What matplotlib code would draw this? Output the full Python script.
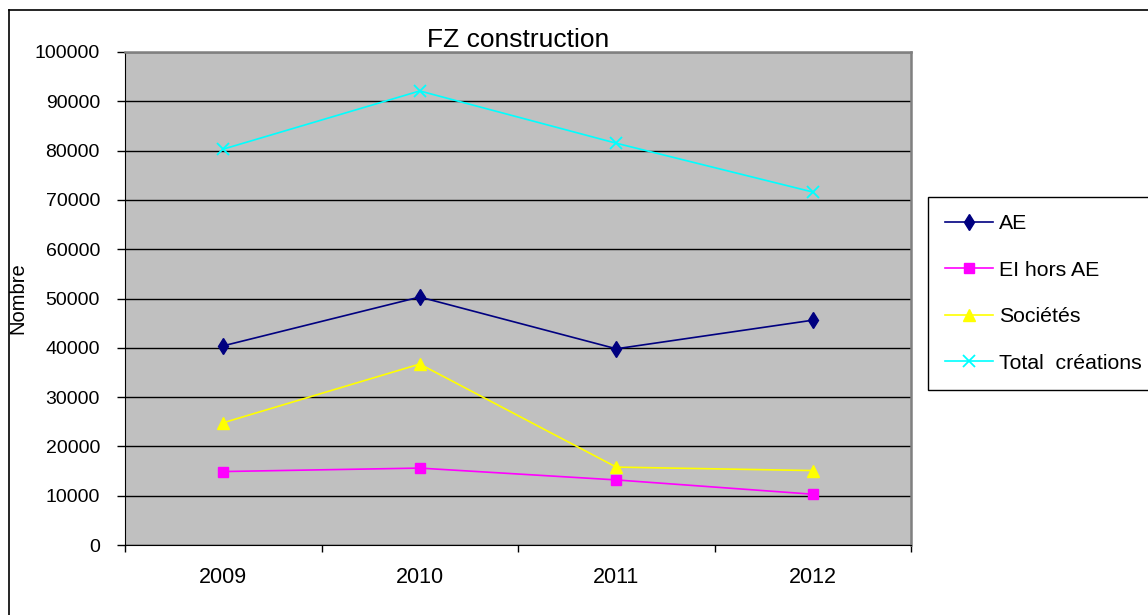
import numpy as np
import matplotlib.pyplot as plt
from matplotlib.lines import Line2D

# DATA
years = ["2009", "2010", "2011", "2012"]

ae = [40400, 50300, 39800, 45600]
ei_hors_ae = [14900, 15600, 13200, 10300]
societes = [24800, 36700, 15800, 15100]
total_creations = [80300, 92100, 81500, 71600]

series_labels = ["AE", "EI hors AE", "Sociétés", "Total  créations"]

plt.rcParams["font.family"] = ["Liberation Sans", "DejaVu Sans"]

W, H = 1148, 615
fig = plt.figure(figsize=(W / 100, H / 100), dpi=100)
fig.patch.set_facecolor("white")

# plot area in pixels: x 125..911, y 52..545
ax = fig.add_axes([125 / W, 1 - 545 / H, (911 - 125) / W, (545 - 52) / H])
ax.set_facecolor("#C0C0C0")

x = np.arange(len(years))

ax.plot(x, ae, color="#000080", marker="d", markersize=8,
        linewidth=1.2, label=series_labels[0])
ax.plot(x, ei_hors_ae, color="#FF00FF", marker="s", markersize=6.5,
        linewidth=1.2, label=series_labels[1])
ax.plot(x, societes, color="#FFFF00", marker="^", markersize=8,
        linewidth=1.2, label=series_labels[2])
ax.plot(x, total_creations, color="#00FFFF", marker="x", markersize=8,
        markeredgewidth=1.3, linewidth=1.2, label=series_labels[3])

ax.set_xlim(-0.5, len(years) - 0.5)
ax.set_ylim(0, 100000)
ax.set_yticks(np.arange(0, 100001, 10000))
ax.yaxis.grid(True, color="black", linewidth=1.0)
ax.set_axisbelow(True)

# x ticks at category boundaries, labels at centres
ax.set_xticks(np.arange(-0.5, len(years), 1.0))
ax.set_xticklabels([])
ax.set_xticks(x, minor=True)
ax.set_xticklabels(years, minor=True)
ax.tick_params(axis="x", which="major", direction="out", length=5, width=1)
ax.tick_params(axis="x", which="minor", length=0, pad=16, labelsize=15.5)
ax.tick_params(axis="y", direction="out", length=6, width=1, pad=12,
               labelsize=14)

for side in ["top", "right"]:
    ax.spines[side].set_color("#808080")
    ax.spines[side].set_linewidth(1.8)
ax.spines["left"].set_color("black")
ax.spines["bottom"].set_color("black")

ax.set_ylabel("Nombre", fontsize=14.5)
ax.yaxis.set_label_coords((27 - 125) / (911 - 125), 0.5)
ax.set_title("FZ construction", fontsize=19, pad=0)

leg = fig.legend(loc="upper left", bbox_to_anchor=(928 / W, 1 - 197 / H),
                 fontsize=15.3, frameon=True, fancybox=False,
                 edgecolor="black", framealpha=1, borderaxespad=0,
                 handlelength=2.25, handletextpad=0.28, labelspacing=1.3,
                 borderpad=0.8)
leg.get_frame().set_linewidth(1.0)

# outer chart border (right and bottom edges fall outside the image)
fig.add_artist(Line2D([9 / W, 1.0], [1 - 10 / H, 1 - 10 / H],
                      color="black", linewidth=1.2))
fig.add_artist(Line2D([9 / W, 9 / W], [0, 1 - 10 / H],
                      color="black", linewidth=1.2))

fig.savefig("out.png", dpi=100)
